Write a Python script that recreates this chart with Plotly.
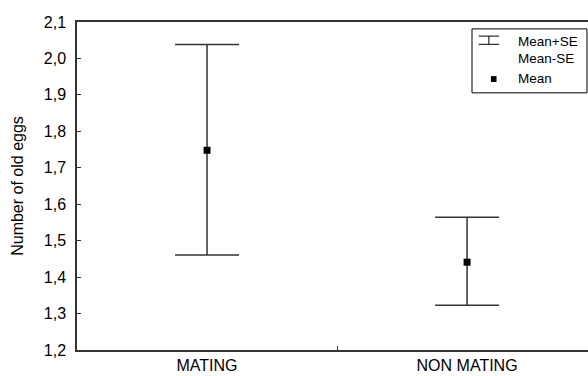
import plotly.graph_objects as go

# Group means with their standard-error bounds
groups = ["MATING", "NON MATING"]
mean_vals = [1.748, 1.441]
upper_se = [2.038, 1.564]
lower_se = [1.461, 1.323]

y_ticks = [1.2, 1.3, 1.4, 1.5, 1.6, 1.7, 1.8, 1.9, 2.0, 2.1]

xpos = list(range(len(groups)))
err_plus = [u - m for u, m in zip(upper_se, mean_vals)]
err_minus = [m - l for m, l in zip(mean_vals, lower_se)]

FONT = "Liberation Sans, Arial, sans-serif"
LINE = "#333333"

fig = go.Figure()
fig.add_trace(go.Scatter(
    x=xpos, y=mean_vals, mode="markers",
    marker=dict(symbol="square", size=7, color="black"),
    error_y=dict(type="data", symmetric=False, array=err_plus, arrayminus=err_minus,
                 color=LINE, thickness=1.5, width=32),
    showlegend=False, cliponaxis=False,
))

# Key box drawn in paper coordinates (top-right corner of the plot area)
shapes = [
    dict(type="rect", xref="paper", yref="paper", x0=0.773, x1=0.998, y0=0.784, y1=0.979,
         line=dict(color="black", width=1), fillcolor="white"),
]
# error-bar glyph
gx = 0.806
shapes += [
    dict(type="line", xref="paper", yref="paper", x0=gx - 0.020, x1=gx + 0.020, y0=0.957, y1=0.957,
         line=dict(color="black", width=1)),
    dict(type="line", xref="paper", yref="paper", x0=gx, x1=gx, y0=0.957, y1=0.932,
         line=dict(color="black", width=1)),
    dict(type="line", xref="paper", yref="paper", x0=gx - 0.020, x1=gx + 0.020, y0=0.932, y1=0.932,
         line=dict(color="black", width=1)),
    # mean marker glyph
    dict(type="rect", xref="paper", yref="paper", x0=0.810, x1=0.821, y0=0.817, y1=0.835,
         line=dict(width=0), fillcolor="black"),
]
annotations = []
for txt, yy in [("Mean+SE", 0.942), ("Mean-SE", 0.890), ("Mean", 0.829)]:
    annotations.append(dict(text=txt, xref="paper", yref="paper", x=0.859, y=yy,
                            xanchor="left", yanchor="middle", showarrow=False,
                            font=dict(family=FONT, size=13.5, color="black")))

fig.update_layout(
    width=588, height=376,
    margin=dict(l=77, r=0, t=22, b=26),
    paper_bgcolor="white", plot_bgcolor="white",
    separators=",.",
    font=dict(family=FONT, size=16, color="black"),
    shapes=shapes, annotations=annotations,
    xaxis=dict(
        range=[-0.5, 1.465], tickmode="array", tickvals=xpos, ticktext=groups,
        ticks="", showgrid=False, zeroline=False,
        showline=True, linecolor=LINE, linewidth=1.5, mirror=True,
        minor=dict(tickmode="array", tickvals=[0.5], ticks="inside", ticklen=4,
                   tickcolor=LINE, showgrid=False),
        tickfont=dict(size=16),
    ),
    yaxis=dict(
        range=[1.2, 2.1], tickmode="array", tickvals=y_ticks, tickformat=".1f",
        ticks="inside", ticklen=4, tickcolor=LINE, showgrid=False, zeroline=False,
        showline=True, linecolor=LINE, linewidth=1.5,
        ticklabelstandoff=6,
        title=dict(text="Number of old eggs", font=dict(size=16), standoff=16),
        tickfont=dict(size=16),
    ),
)

fig.write_html("out.html")
